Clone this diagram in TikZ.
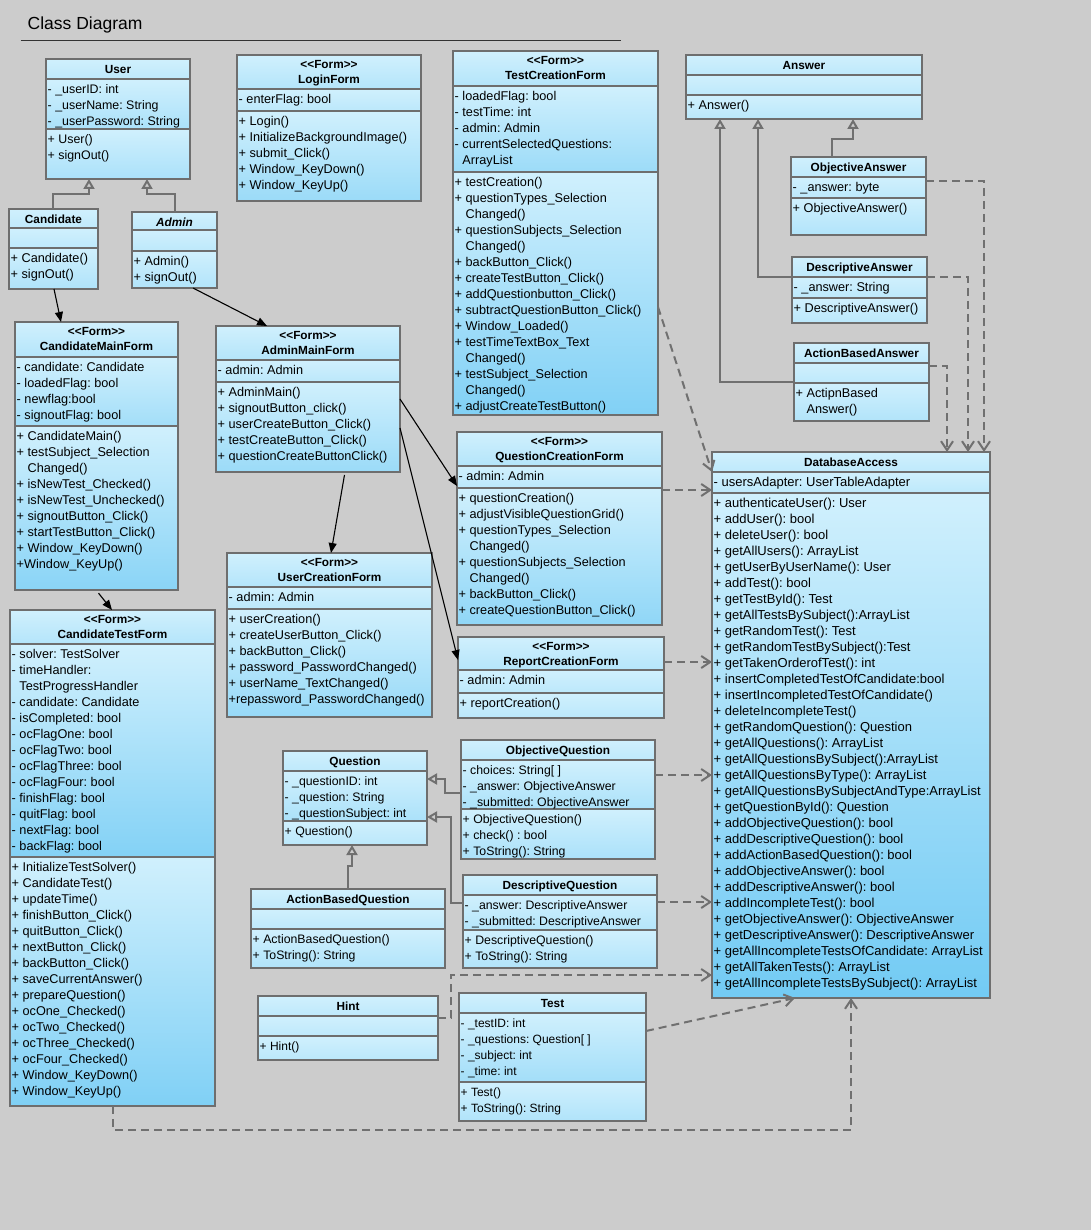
\documentclass[tikz,border=0pt]{standalone}
\usepackage{fontspec}
\setmainfont{Liberation Sans}[Ligatures=TeXOff]
\usetikzlibrary{arrows.meta,fit}
\definecolor{bgc}{RGB}{204,204,204}
\definecolor{bordc}{RGB}{110,110,110}
\definecolor{linec}{RGB}{112,112,112}
\definecolor{ctop}{RGB}{208,240,253}
\definecolor{cdark}{RGB}{95,195,242}
\tikzset{
  frame/.style={draw=bordc, line width=2pt, inner sep=0pt, outer sep=0pt},
  divline/.style={draw=bordc, line width=2pt},
  bodytxt/.style={anchor=north west, align=left, inner sep=0pt, font=\fontsize{12.7}{16}\selectfont, text=black},
  dbtxt/.style={bodytxt, font=\fontsize{13}{16}\selectfont},
  usertxt/.style={bodytxt, font=\fontsize{12.4}{16}\selectfont},
  smalltxt/.style={bodytxt, font=\fontsize{12.3}{16}\selectfont},
  tinytxt/.style={bodytxt, font=\fontsize{12}{16}\selectfont},
  nametxt/.style={anchor=north, align=center, inner sep=0pt, font=\fontsize{11.8}{15}\selectfont\bfseries, text=black},
  gen/.style={draw=linec, line width=2pt, -{Triangle[open, length=10pt, width=11pt]}},
  dep/.style={draw=linec, line width=2pt, dash pattern=on 8pt off 5pt, -{Straight Barb[length=9pt, width=12pt]}},
  nav/.style={draw=black, line width=1.1pt, -{Triangle[length=10pt, width=8pt]}},
}
\newcommand\umlcomp[4]{%
  \pgfmathtruncatemacro\shadet{(#4-#3)/((#4-#3)+100)*100}%
  \colorlet{cbtmp}{cdark!\shadet!ctop}%
  \shade[top color=ctop,bottom color=cbtmp] (#1,#3) rectangle (#2,#4);%
}
\newcommand\umlbox[7]{%
  \umlcomp{#2}{#3}{#4}{#5}\umlcomp{#2}{#3}{#5}{#6}\umlcomp{#2}{#3}{#6}{#7}%
  \draw[divline] (#2,#5) -- (#3,#5) (#2,#6) -- (#3,#6);%
  \coordinate (#1-nw) at (#2,#4);\coordinate (#1-se) at (#3,#7);%
  \node[frame,fit=(#1-nw)(#1-se)] (#1) {};%
}
\newcommand\umlname[5]{\node[nametxt] (#1) at ({(#2+#3)/2},{#4+3.5}) {\strut #5};}
\newcommand\umlform[5]{\node[nametxt] (#1) at ({(#2+#3)/2},{#4+2.5}) {\strut <<Form>>\\#5};}
\newcommand\umltext[5][bodytxt]{\node[#1] (#2) at ({#3+1.5},{#4+3.3}) {\strut #5};}
\newcommand\inda{\phantom{- }}
\newcommand\indo{\phantom{+ }}
\begin{document}
\frenchspacing
\catcode`\_=12
\begin{tikzpicture}[x=1pt,y=-1pt]
\fill[bgc] (0,0) rectangle (1091,1230);
\useasboundingbox (0,0) rectangle (1091,1230);

\node[anchor=base west, inner sep=0pt, font=\fontsize{17.5}{20}\selectfont] (title) at (27.5,29.3) {Class Diagram};
\draw[line width=1pt, black!80] (20.5,40.5) -- (621,40.5);

% User
\umlbox{user}{46}{190}{59}{79}{129}{179}
\umlname{user-t}{46}{190}{59}{User}
\umltext[usertxt]{user-a}{46}{79}{- _userID: int\\- _userName: String\\- _userPassword: String}
\umltext[usertxt]{user-o}{46}{129}{+ User()\\+ signOut()}

% Candidate
\umlbox{cand}{9}{98}{209}{228}{248}{289}
\umlname{cand-t}{9}{98}{209}{Candidate}
\umltext{cand-o}{9}{248}{+ Candidate()\\+ signOut()}

% Admin
\umlbox{admin}{132}{217}{212}{230}{251}{288}
\umlname{admin-t}{132}{217}{212}{\itshape Admin}
\umltext{admin-o}{132}{251}{+ Admin()\\+ signOut()}

% LoginForm
\umlbox{login}{237}{421}{55}{89}{111}{201}
\umlform{login-t}{237}{421}{55}{LoginForm}
\umltext{login-a}{237}{89}{- enterFlag: bool}
\umltext{login-o}{237}{111}{+ Login()\\+ InitializeBackgroundImage()\\+ submit_Click()\\+ Window_KeyDown()\\+ Window_KeyUp()}

% TestCreationForm
\umlbox{tcf}{453}{658}{51}{86}{172}{415}
\umlform{tcf-t}{453}{658}{51}{TestCreationForm}
\umltext{tcf-a}{453}{86}{- loadedFlag: bool\\- testTime: int\\- admin: Admin\\- currentSelectedQuestions:\\\inda ArrayList}
\umltext{tcf-o}{453}{172}{+ testCreation()\\+ questionTypes_Selection\\\indo Changed()\\+ questionSubjects_Selection\\\indo Changed()\\+ backButton_Click()\\+ createTestButton_Click()\\+ addQuestionbutton_Click()\\+ subtractQuestionButton_Click()\\+ Window_Loaded()\\+ testTimeTextBox_Text\\\indo Changed()\\+ testSubject_Selection\\\indo Changed()\\+ adjustCreateTestButton()}

% Answer
\umlbox{ans}{686}{922}{55}{75}{95}{119}
\umlname{ans-t}{686}{922}{55}{Answer}
\umltext{ans-o}{686}{95}{+ Answer()}

\umlbox{oans}{791}{926}{157}{177}{198}{235}
\umlname{oans-t}{791}{926}{157}{ObjectiveAnswer}
\umltext{oans-a}{791}{177}{- _answer: byte}
\umltext{oans-o}{791}{198}{+ ObjectiveAnswer()}

\umlbox{dans}{792}{927}{257}{277}{298}{323}
\umlname{dans-t}{792}{927}{257}{DescriptiveAnswer}
\umltext{dans-a}{792}{277}{- _answer: String}
\umltext{dans-o}{792}{298}{+ DescriptiveAnswer()}

\umlbox{aans}{794}{929}{343}{363}{383}{421}
\umlname{aans-t}{794}{929}{343}{ActionBasedAnswer}
\umltext{aans-o}{794}{383}{+ ActipnBased\\\indo Answer()}

% CandidateMainForm
\umlbox{cmf}{15}{178}{322}{357}{426}{590}
\umlform{cmf-t}{15}{178}{322}{CandidateMainForm}
\umltext{cmf-a}{15}{357}{- candidate: Candidate\\- loadedFlag: bool\\- newflag:bool\\- signoutFlag: bool}
\umltext{cmf-o}{15}{426}{+ CandidateMain()\\+ testSubject_Selection\\\indo Changed()\\+ isNewTest_Checked()\\+ isNewTest_Unchecked()\\+ signoutButton_Click()\\+ startTestButton_Click()\\+ Window_KeyDown()\\+Window_KeyUp()}

% AdminMainForm
\umlbox{amf}{216}{400}{326}{360}{382}{472}
\umlform{amf-t}{216}{400}{326}{AdminMainForm}
\umltext{amf-a}{216}{360}{- admin: Admin}
\umltext{amf-o}{216}{382}{+ AdminMain()\\+ signoutButton_click()\\+ userCreateButton_Click()\\+ testCreateButton_Click()\\+ questionCreateButtonClick()}

% UserCreationForm
\umlbox{ucf}{227}{432}{553}{587}{609}{717}
\umlform{ucf-t}{227}{432}{553}{UserCreationForm}
\umltext{ucf-a}{227}{587}{- admin: Admin}
\umltext{ucf-o}{227}{609}{+ userCreation()\\+ createUserButton_Click()\\+ backButton_Click()\\+ password_PasswordChanged()\\+ userName_TextChanged()\\+repassword_PasswordChanged()}

% QuestionCreationForm
\umlbox{qcf}{457}{662}{432}{466}{488}{625}
\umlform{qcf-t}{457}{662}{432}{QuestionCreationForm}
\umltext{qcf-a}{457}{466}{- admin: Admin}
\umltext{qcf-o}{457}{488}{+ questionCreation()\\+ adjustVisibleQuestionGrid()\\+ questionTypes_Selection\\\indo Changed()\\+ questionSubjects_Selection\\\indo Changed()\\+ backButton_Click()\\+ createQuestionButton_Click()}

% ReportCreationForm
\umlbox{rcf}{458}{664}{637}{670}{693}{718}
\umlform{rcf-t}{458}{664}{637}{ReportCreationForm}
\umltext{rcf-a}{458}{670}{- admin: Admin}
\umltext{rcf-o}{458}{693}{+ reportCreation()}

% DatabaseAccess
\umlbox{db}{712}{990}{452}{472}{493}{998}
\umlname{db-t}{712}{990}{452}{DatabaseAccess}
\umltext[dbtxt]{db-a}{712}{472}{- usersAdapter: UserTableAdapter}
\umltext[dbtxt]{db-o}{712}{493}{+ authenticateUser(): User\\+ addUser(): bool\\+ deleteUser(): bool\\+ getAllUsers(): ArrayList\\+ getUserByUserName(): User\\+ addTest(): bool\\+ getTestById(): Test\\+ getAllTestsBySubject():ArrayList\\+ getRandomTest(): Test\\+ getRandomTestBySubject():Test\\+ getTakenOrderofTest(): int\\+ insertCompletedTestOfCandidate:bool\\+ insertIncompletedTestOfCandidate()\\+ deleteIncompleteTest()\\+ getRandomQuestion(): Question\\+ getAllQuestions(): ArrayList\\+ getAllQuestionsBySubject():ArrayList\\+ getAllQuestionsByType(): ArrayList\\+ getAllQuestionsBySubjectAndType:ArrayList\\+ getQuestionById(): Question\\+ addObjectiveQuestion(): bool\\+ addDescriptiveQuestion(): bool\\+ addActionBasedQuestion(): bool\\+ addObjectiveAnswer(): bool\\+ addDescriptiveAnswer(): bool\\+ addIncompleteTest(): bool\\+ getObjectiveAnswer(): ObjectiveAnswer\\+ getDescriptiveAnswer(): DescriptiveAnswer\\+ getAllIncompleteTestsOfCandidate: ArrayList\\+ getAllTakenTests(): ArrayList\\+ getAllIncompleteTestsBySubject(): ArrayList}

% CandidateTestForm
\umlbox{ctf}{10}{215}{610}{644}{857}{1106}
\umlform{ctf-t}{10}{215}{610}{CandidateTestForm}
\umltext{ctf-a}{10}{644}{- solver: TestSolver\\- timeHandler:\\\inda TestProgressHandler\\- candidate: Candidate\\- isCompleted: bool\\- ocFlagOne: bool\\- ocFlagTwo: bool\\- ocFlagThree: bool\\- ocFlagFour: bool\\- finishFlag: bool\\- quitFlag: bool\\- nextFlag: bool\\- backFlag: bool}
\umltext{ctf-o}{10}{857}{+ InitializeTestSolver()\\+ CandidateTest()\\+ updateTime()\\+ finishButton_Click()\\+ quitButton_Click()\\+ nextButton_Click()\\+ backButton_Click()\\+ saveCurrentAnswer()\\+ prepareQuestion()\\+ ocOne_Checked()\\+ ocTwo_Checked()\\+ ocThree_Checked()\\+ ocFour_Checked()\\+ Window_KeyDown()\\+ Window_KeyUp()}

% Question
\umlbox{q}{283}{427}{751}{771}{821}{845}
\umlname{q-t}{283}{427}{751}{Question}
\umltext[smalltxt]{q-a}{283}{771}{- _questionID: int\\- _question: String\\- _questionSubject: int}
\umltext[smalltxt]{q-o}{283}{821}{+ Question()}

\umlbox{oq}{461}{655}{740}{760}{809}{859}
\umlname{oq-t}{461}{655}{740}{ObjectiveQuestion}
\umltext[smalltxt]{oq-a}{461}{760}{- choices: String[ ]\\- _answer: ObjectiveAnswer\\- _submitted: ObjectiveAnswer}
\umltext[smalltxt]{oq-o}{461}{809}{+ ObjectiveQuestion()\\+ check() : bool\\+ ToString(): String}

\umlbox{dq}{463}{657}{875}{895}{930}{968}
\umlname{dq-t}{463}{657}{875}{DescriptiveQuestion}
\umltext[smalltxt]{dq-a}{463}{895}{- _answer: DescriptiveAnswer\\- _submitted: DescriptiveAnswer}
\umltext[smalltxt]{dq-o}{463}{930}{+ DescriptiveQuestion()\\+ ToString(): String}

\umlbox{abq}{251}{445}{889}{909}{929}{968}
\umlname{abq-t}{251}{445}{889}{ActionBasedQuestion}
\umltext[smalltxt]{abq-o}{251}{929}{+ ActionBasedQuestion()\\+ ToString(): String}

\umlbox{hint}{258}{438}{996}{1016}{1036}{1060}
\umlname{hint-t}{258}{438}{996}{Hint}
\umltext[tinytxt]{hint-o}{258}{1036}{+ Hint()}

\umlbox{test}{459}{646}{993}{1013}{1082}{1121}
\umlname{test-t}{459}{646}{993}{Test}
\umltext[tinytxt]{test-a}{459}{1013}{- _testID: int\\- _questions: Question[ ]\\- _subject: int\\- _time: int}
\umltext[tinytxt]{test-o}{459}{1082}{+ Test()\\+ ToString(): String}

% generalizations
\draw[gen] (53,0 |- cand.north) -- (53,194) -| (89,0 |- user.south);
\draw[gen] (175,0 |- admin.north) -- (175,194) -| (147,0 |- user.south);
\draw[gen] (832,0 |- oans.north) -- (832,139) -| (853,0 |- ans.south);
\draw[gen] (dans.west |- 0,277) -| (758,0 |- ans.south);
\draw[gen] (aans.west |- 0,382) -| (720,0 |- ans.south);
\draw[gen] (oq.west |- 0,793) -- (445,793) |- (q.east |- 0,779);
\draw[gen] (dq.west |- 0,903) -- (451,903) |- (q.east |- 0,817);
\draw[gen] (348,0 |- abq.north) -- (348,866) -| (352,0 |- q.south);

% dependencies
\draw[dep] (oans.east |- 0,181) -| (984,0 |- db.north);
\draw[dep] (dans.east |- 0,277) -| (968,0 |- db.north);
\draw[dep] (aans.east |- 0,366) -| (947,0 |- db.north);
\draw[dep] (tcf.east |- 0,307) -- (db.west |- 0,472);
\draw[dep] (qcf.east |- 0,490) -- (db.west |- 0,490);
\draw[dep] (rcf.east |- 0,662) -- (db.west |- 0,662);
\draw[dep] (oq.east |- 0,775) -- (db.west |- 0,775);
\draw[dep] (dq.east |- 0,902) -- (db.west |- 0,902);
\draw[dep] (hint.east |- 0,1018) -- (451,1018) |- (db.west |- 0,975);
\draw[dep] (test.east |- 0,1031) -- (795,0 |- db.south);
\draw[dep] (113,0 |- ctf.south) -- (113,1130) -| (851,0 |- db.south);

% navigations
\draw[nav] (54,0 |- cand.south) -- (61,0 |- cmf.north);
\draw[nav] (193,0 |- admin.south) -- (267,0 |- amf.north);
\draw[nav, shorten <=4pt] (96,0 |- cmf.south) -- (112,0 |- ctf.north);
\draw[nav] (amf.east |- 0,399) -- (qcf.west |- 0,486);
\draw[nav] (amf.east |- 0,428) -- (rcf.west |- 0,660);
\draw[nav, shorten <=3pt] (345,0 |- amf.south) -- (331,0 |- ucf.north);
\end{tikzpicture}
\end{document}
